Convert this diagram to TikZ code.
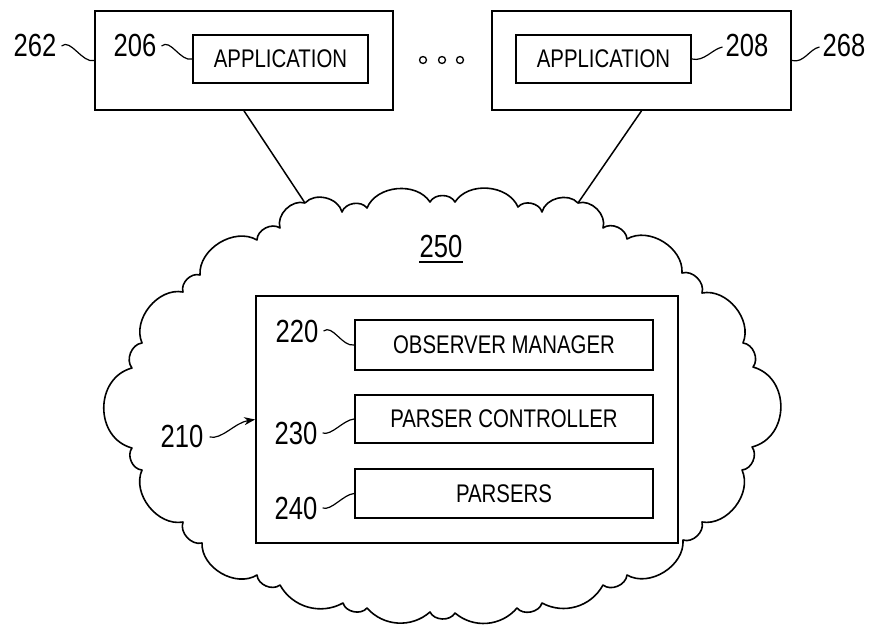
\documentclass[tikz,border=0pt]{standalone}
\usepackage{fontspec}
\setmainfont{Liberation Sans}[FakeStretch=0.8]
\usetikzlibrary{arrows.meta,calc}
\tikzset{
  boxline/.style={draw=black, line width=1.7pt, inner sep=0pt},
  outerbox/.style={boxline, minimum width=298pt, minimum height=99pt},
  innerbox/.style={boxline, minimum width=175pt, minimum height=48pt, font=\fontsize{25.5}{25.5}\selectfont},
  modbox/.style={boxline, minimum width=298pt, minimum height=49pt, font=\fontsize{25.5}{25.5}\selectfont},
  refnum/.style={inner sep=0pt, font=\fontsize{32}{32}\selectfont},
  leader/.style={line width=1.2pt},
  conn/.style={line width=1.5pt},
  cloudline/.style={line width=1.6pt, line join=round},
  bmp/.style={bend left=62, looseness=1},
  bwide/.style={bend left=75, looseness=1.25},
  bflat/.style={bend left=45, looseness=1},
  dot/.style={circle, draw, line width=1.3pt, minimum size=7pt, inner sep=0pt}
}
\begin{document}
\begin{tikzpicture}[x=1pt,y=-1pt]
\useasboundingbox (0,0) rectangle (875,624);

% top boxes
\node[outerbox] (b262) at (244,60.5) {};
\node[innerbox] (b206) at (280.5,59) {APPLICATION};
\node[outerbox, minimum width=299pt] (b268) at (641.5,60.5) {};
\node[innerbox] (b208) at (603.5,59) {APPLICATION};

\node[refnum] (l262) at (35,45) {262};
\node[refnum] (l206) at (135,45) {206};
\node[refnum] (l208) at (747,45) {208};
\node[refnum] (l268) at (844,45) {268};

\draw[leader] ($(l262.east)+(5,1)$) .. controls +(9,-8) and +(-12,3) .. (b262.west);
\draw[leader] ($(l206.east)+(5,1)$) .. controls +(9,-8) and +(-12,3) .. (b206.west);
\draw[leader] (b208.east) .. controls +(12,3) and +(-10,2) .. ($(l208.west)+(-3,2)$);
\draw[leader] (b268.east) .. controls +(12,3) and +(-10,2) .. ($(l268.west)+(-3,2)$);

% dots
\node[dot] (d1) at (423,60) {};
\node[dot] (d2) at (442,60) {};
\node[dot] (d3) at (460,60) {};

% cloud
\foreach \px/\py [count=\i] in {305/203,342/212,367/208,430/202,455/202,518/207,542/212,578/203,
  603/228,627/239,682/273,702/293,743/343,753/367,752/447,742/470,702/522,683/540,
  627/575,603/585,542/603,517/608,455/613,430/612,367/608,343/603,280/585,257/575,
  202/543,183/522,142/470,132/448,132/368,142/343,183/292,200/275,257/240,280/228}
  {\coordinate (c\i) at (\px,\py);}
\draw[cloudline] (c1) \foreach \i/\st in {2/bmp,3/bmp,4/bmp,5/bmp,6/bmp,7/bmp,8/bmp,9/bmp,10/bmp,
  11/bmp,12/bmp,13/bmp,14/bmp,15/bwide,16/bmp,17/bmp,18/bmp,19/bmp,20/bmp,21/bflat,22/bmp,
  23/bflat,24/bmp,25/bflat,26/bmp,27/bflat,28/bmp,29/bmp,30/bmp,31/bmp,32/bmp,33/bwide,34/bmp,
  35/bmp,36/bmp,37/bmp,38/bmp} { to[\st] (c\i) } to[bmp] (c1);

\draw[conn] (b262.south) -- (c1);
\draw[conn] (b268.south) -- (c8);

\node[refnum] (l250) at (441,246) {250};
\draw[line width=1.5pt] ([yshift=-5pt]l250.base west) -- ([yshift=-5pt]l250.base east);

% inner system
\node[boxline, minimum width=422pt, minimum height=247pt] (b210) at (467,419.5) {};
\node[modbox, minimum height=50pt] (b220) at (504,345) {OBSERVER MANAGER};
\node[modbox, minimum height=48pt] (b230) at (504,419) {PARSER CONTROLLER};
\node[modbox] (b240) at (504,493.5) {PARSERS};

\node[refnum] (l220) at (297,331) {220};
\node[refnum] (l230) at (296,433) {230};
\node[refnum] (l240) at (296,508) {240};
\node[refnum] (l210) at (182,436) {210};

\draw[leader] ($(l220.east)+(5,0)$) .. controls +(9,-7) and +(-12,2) .. (b220.west);
\draw[leader] ($(l230.east)+(5,0)$) .. controls +(9,3) and +(-11,1) .. (b230.west);
\draw[leader] ($(l240.east)+(5,0)$) .. controls +(9,3) and +(-11,1) .. (b240.west);
\draw[leader, -{Stealth[length=11pt,width=8pt]}] ($(l210.east)+(6,1)$) .. controls +(12,3) and +(-20,3) .. (b210.west);
\end{tikzpicture}
\end{document}
